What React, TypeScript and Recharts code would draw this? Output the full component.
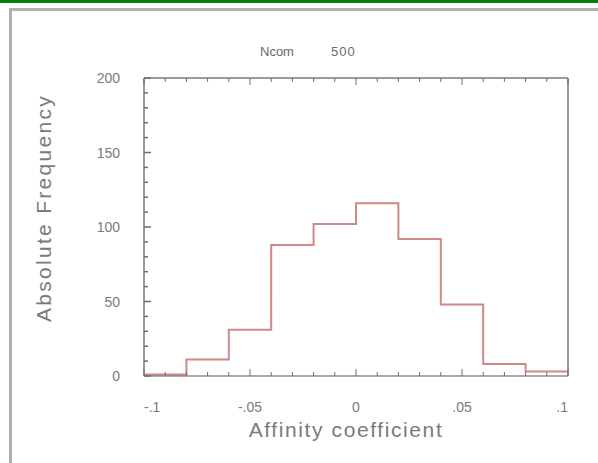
import React from "react";
import { ComposedChart, Line, XAxis, YAxis, Label } from "recharts";

// histogram bins (Affinity coefficient) and counts
const binEdges = [-0.1, -0.08, -0.06, -0.04, -0.02, 0, 0.02, 0.04, 0.06, 0.08, 0.1];
const counts = [1, 11, 31, 88, 102, 116, 92, 48, 8, 3];

const xMinorTicks = [
  -0.1, -0.09, -0.08, -0.07, -0.06, -0.05, -0.04, -0.03, -0.02, -0.01, 0,
  0.01, 0.02, 0.03, 0.04, 0.05, 0.06, 0.07, 0.08, 0.09, 0.1,
];
const xMajorTicks = [-0.1, -0.05, 0, 0.05, 0.1];
const xTickLabels = ["-.1", "-.05", "0", ".05", ".1"];

const yMinorTicks = [
  0, 10, 20, 30, 40, 50, 60, 70, 80, 90, 100, 110, 120, 130, 140, 150, 160,
  170, 180, 190, 200,
];
const yMajorTicks = [0, 50, 100, 150, 200];
const yTickLabels = ["0", "50", "100", "150", "200"];

const nComLabel = "Ncom";
const nComValue = "500";

const FRAME = "#9a9a9a";
const TICK = "#6e6e6e";
const TEXT = "#7a7a7a";
const FONT = "'Liberation Sans', Arial, sans-serif";

// step data: each edge carries the count of the bin that starts there
const data = binEdges.map((e, i) => ({
  x: e,
  freq: i < counts.length ? counts[i] : counts[counts.length - 1],
}));

const near = (a: number, b: number) => Math.abs(a - b) < 1e-9;

function BottomTick(props: any) {
  const { x, y, payload } = props;
  const i = xMajorTicks.findIndex((t) => near(t, payload.value));
  const len = i >= 0 ? 7 : 4;
  const anchor = i === 0 ? "start" : i === xMajorTicks.length - 1 ? "end" : "middle";
  return (
    <g>
      <line x1={x} x2={x} y1={y} y2={y - len} stroke={TICK} strokeWidth={1} />
      {i >= 0 && (
        <text
          x={x}
          y={y + 36}
          textAnchor={anchor}
          fontSize={14}
          fontFamily={FONT}
          fill={TEXT}
        >
          {xTickLabels[i]}
        </text>
      )}
    </g>
  );
}

function TopTick(props: any) {
  const { x, y, payload } = props;
  const major = xMajorTicks.some((t) => near(t, payload.value));
  return <line x1={x} x2={x} y1={y} y2={y + (major ? 7 : 4)} stroke={TICK} strokeWidth={1} />;
}

function LeftTick(props: any) {
  const { x, y, payload } = props;
  const i = yMajorTicks.findIndex((t) => near(t, payload.value));
  const len = i >= 0 ? 7 : 4;
  return (
    <g>
      <line x1={x} x2={x + len} y1={y} y2={y} stroke={TICK} strokeWidth={1.5} />
      {i >= 0 && (
        <text
          x={x - 24}
          y={y + 5}
          textAnchor="end"
          fontSize={14}
          fontFamily={FONT}
          fill={TEXT}
        >
          {yTickLabels[i]}
        </text>
      )}
    </g>
  );
}

function RightTick(props: any) {
  const { x, y, payload } = props;
  const major = yMajorTicks.some((t) => near(t, payload.value));
  return <line x1={x} x2={x - (major ? 7 : 4)} y1={y} y2={y} stroke={TICK} strokeWidth={1.5} />;
}

export default function App() {
  return (
    <div
      style={{
        position: "absolute",
        left: 0,
        top: 0,
        width: 598,
        height: 463,
        background: "#fff",
        overflow: "hidden",
      }}
    >
      {/* green strip and grey panel border of the page */}
      <div style={{ position: "absolute", left: 0, top: 0, width: 598, height: 3, background: "#0a7a0a" }} />
      <div
        style={{
          position: "absolute",
          left: 9,
          top: 8,
          width: 600,
          height: 470,
          borderTop: `3px solid #b0b0b0`,
          borderLeft: `3px solid #b0b0b0`,
        }}
      />
      <div style={{ position: "absolute", left: 0, top: 0 }}>
        <ComposedChart
          width={598}
          height={463}
          data={data}
          margin={{ top: 0, right: 0, bottom: 0, left: 0 }}
        >
          <XAxis
            dataKey="x"
            type="number"
            domain={[-0.1, 0.1]}
            ticks={xMinorTicks}
            interval={0}
            height={87}
            tickSize={0}
            tickMargin={0}
            tickLine={false}
            tick={<BottomTick />}
            axisLine={{ stroke: "#555", strokeWidth: 1 }}
          >
            <Label
              content={(p: any) => {
                const vb = p.viewBox;
                return (
                  <text
                    x={vb.x + vb.width / 2 - 10}
                    y={vb.y + 61}
                    textAnchor="middle"
                    fontSize={21}
                    fontFamily={FONT}
                    letterSpacing={1.6}
                    fill={TEXT}
                  >
                    Affinity coefficient
                  </text>
                );
              }}
            />
          </XAxis>
          <XAxis
            xAxisId="top"
            orientation="top"
            dataKey="x"
            type="number"
            domain={[-0.1, 0.1]}
            ticks={xMinorTicks}
            interval={0}
            height={78}
            tickSize={0}
            tickMargin={0}
            tickLine={false}
            tick={<TopTick />}
            axisLine={{ stroke: FRAME, strokeWidth: 2 }}
          >
            <Label
              content={(p: any) => {
                const vb = p.viewBox;
                return (
                  <g fontSize={13} fontFamily={FONT} fill="#6a6a6a">
                    <text x={vb.x + 116} y={vb.y + 56}>
                      {nComLabel}
                    </text>
                    <text x={vb.x + 187} y={vb.y + 56} letterSpacing={1}>
                      {nComValue}
                    </text>
                  </g>
                );
              }}
            />
          </XAxis>
          <YAxis
            type="number"
            domain={[0, 200]}
            ticks={yMinorTicks}
            interval={0}
            width={144}
            tickSize={0}
            tickMargin={0}
            tickLine={false}
            tick={<LeftTick />}
            axisLine={{ stroke: FRAME, strokeWidth: 2 }}
          >
            <Label
              content={(p: any) => {
                const vb = p.viewBox;
                const cx = 51;
                const cy = vb.y + vb.height / 2 - 19;
                return (
                  <text
                    x={cx}
                    y={cy}
                    transform={`rotate(-90, ${cx}, ${cy})`}
                    textAnchor="middle"
                    fontSize={21}
                    fontFamily={FONT}
                    letterSpacing={2.3}
                    fill={TEXT}
                  >
                    Absolute Frequency
                  </text>
                );
              }}
            />
          </YAxis>
          <YAxis
            yAxisId="right"
            orientation="right"
            type="number"
            domain={[0, 200]}
            ticks={yMinorTicks}
            interval={0}
            width={30}
            tickSize={0}
            tickMargin={0}
            tickLine={false}
            tick={<RightTick />}
            axisLine={{ stroke: FRAME, strokeWidth: 2 }}
          />
          <Line
            type="stepAfter"
            dataKey="freq"
            stroke="#c87272"
            strokeWidth={2}
            strokeOpacity={0.85}
            dot={false}
            activeDot={false}
            isAnimationActive={false}
          />
        </ComposedChart>
      </div>
    </div>
  );
}
